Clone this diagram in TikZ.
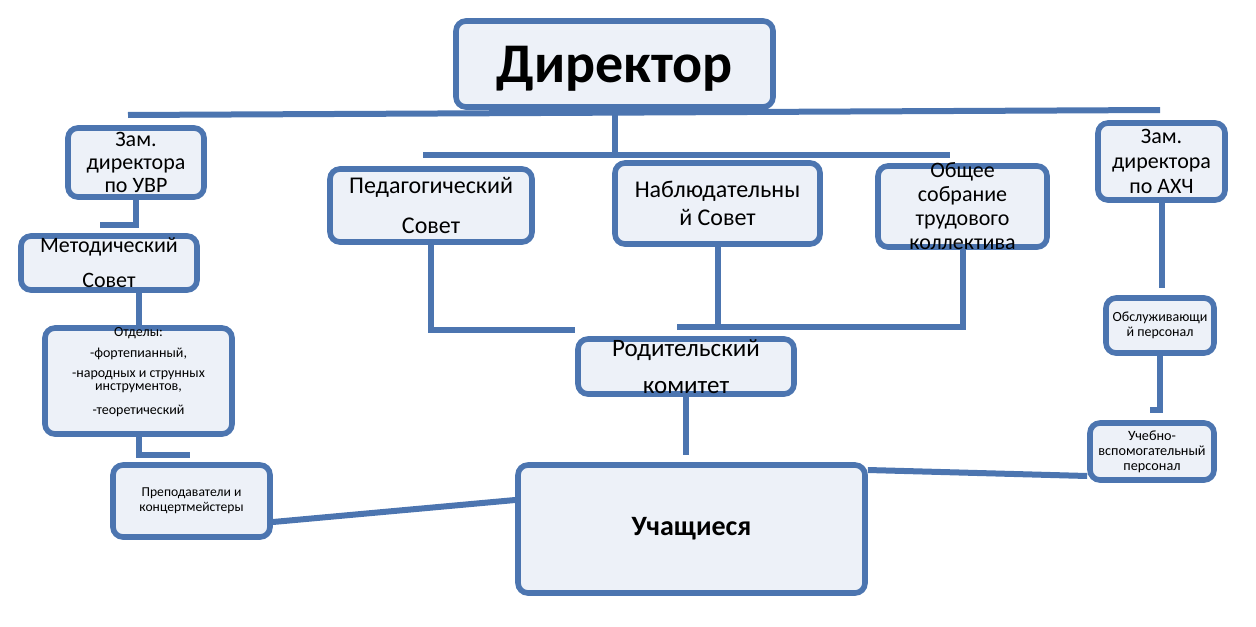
\documentclass[tikz,border=0pt]{standalone}
\usepackage{fontspec}
\setmainfont{Carlito}
\usetikzlibrary{backgrounds}

\definecolor{boxline}{RGB}{76,117,176}
\definecolor{boxfill}{RGB}{237,241,248}

\begin{document}
\begin{tikzpicture}[x=0.5pt,y=-0.5pt,
                    box/.style={draw=boxline,fill=boxfill,line width=2.8pt,
                                rounded corners=5pt,align=center,
                                inner xsep=0pt,inner ysep=-10pt},
                    link/.style={color=boxline,line width=3pt},
                    elbow/.style={to path={|- (\tikztotarget)}}]
  \useasboundingbox (0,0) rectangle (1256,626);

  \node[box,minimum width=158.5pt,minimum height=43pt,text depth=0pt,
        font=\fontsize{28}{32}\selectfont\bfseries]   (dir)   at (614.5,64)   {Директор};
  \node[box,minimum width=68pt,minimum height=34.5pt,
        font=\fontsize{11}{11.5}\selectfont]          (zuvr)  at (136,162.5)  {Зам.\\директора\\по УВР};
  \node[box,minimum width=88pt,minimum height=27pt,
        font=\fontsize{11}{17.5}\selectfont]          (met)   at (109,263)    {Методический\\Совет};
  \node[box,minimum width=93.5pt,minimum height=53pt,
        font=\fontsize{7}{6.5}\selectfont]            (otd)   at (138.5,381)  {Отделы:\\[4pt]-фортепианный,\\[3.5pt]-народных и струнных\\инструментов,\\[5.5pt]-теоретический\\[3.5pt]\mbox{}};
  \node[box,minimum width=78.5pt,minimum height=36pt,
        font=\fontsize{6.8}{7.5}\selectfont]          (prep)  at (191.5,501)  {Преподаватели и\\концертмейстеры};
  \node[box,minimum width=101pt,minimum height=36.5pt,
        font=\fontsize{12}{20}\selectfont]            (ped)   at (431,205.5)  {Педагогический\\Совет};
  \node[box,minimum width=102.5pt,minimum height=40.5pt,
        font=\fontsize{12}{14}\selectfont]            (nab)   at (717.5,203.5) {Наблюдательны\\й Совет};
  \node[box,minimum width=84.5pt,minimum height=40.5pt,
        font=\fontsize{11}{12}\selectfont]            (obsh)  at (962.5,206.5) {Общее\\собрание\\трудового\\коллектива};
  \node[box,minimum width=63.5pt,minimum height=38.5pt,
        font=\fontsize{11}{12.5}\selectfont]          (zahc)  at (1161.5,161.5) {Зам.\\директора\\по АХЧ};
  \node[box,minimum width=108pt,minimum height=27.5pt,
        font=\fontsize{12.5}{18.5}\selectfont]        (rod)   at (686,366.5)  {Родительский\\комитет};
  \node[box,minimum width=173.5pt,minimum height=64pt,
        font=\fontsize{14}{16}\selectfont\bfseries]   (uch)   at (691.5,529)  {Учащиеся};
  \node[box,minimum width=54pt,minimum height=27.5pt,
        font=\fontsize{7}{7.5}\selectfont]            (obsl)  at (1160,325.5) {Обслуживающи\\й персонал};
  \node[box,minimum width=62pt,minimum height=28.5pt,
        font=\fontsize{7.1}{7.5}\selectfont]          (ucheb) at (1152,451.5) {Учебно-\\вспомогательный\\персонал};

  \begin{scope}[on background layer]
    \coordinate (busL)  at (128,115);
    \coordinate (busR)  at (1160,110);
    \coordinate (midL)  at (423,155);
    \coordinate (midR)  at (950,155);
    \coordinate (stubA) at (100,225);
    \coordinate (stubB) at (190,455);
    \coordinate (rodL)  at (575,330);
    \coordinate (rodR)  at (677,327);
    \coordinate (stubC) at (690,455);
    \coordinate (stubD) at (1155,288);
    \coordinate (stubE) at (1150,410);

    \path[link] (busL) edge (busR)
                (midL) edge (midR)
                (dir)  edge (dir |- midL)
                (zuvr) edge[elbow] (stubA)
                (otd)  edge (otd |- met.south)
                       edge[elbow] (stubB)
                ([yshift=-10.5pt]prep.east) edge ([yshift=14.5pt]uch.west)
                (ped)  edge[elbow] (rodL)
                (obsh) edge[elbow] (rodR)
                (nab)  edge (nab |- rodR)
                (rod)  edge (rod |- stubC)
                (zahc) edge (zahc |- stubD)
                (obsl) edge[elbow] (stubE)
                ([yshift=29.5pt]uch.east) edge ([yshift=-12.25pt]ucheb.west);
  \end{scope}
\end{tikzpicture}
\end{document}
